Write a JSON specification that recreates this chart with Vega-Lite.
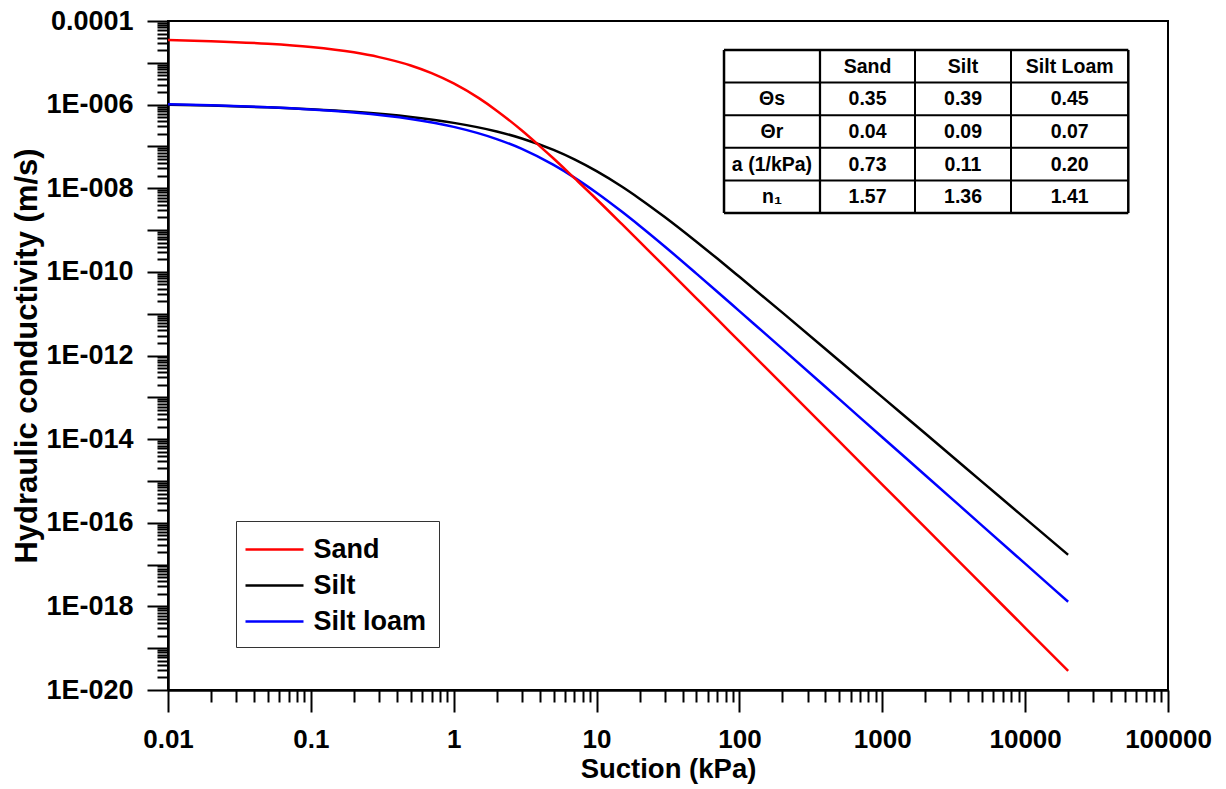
{
  "$schema": "https://vega.github.io/schema/vega-lite/v6.json",
  "width": 1000,
  "height": 669,
  "autosize": "none",
  "padding": {"left": 168, "top": 21, "right": 58, "bottom": 99},
  "background": "white",
  "config": {
    "font": "Liberation Sans",
    "view": {"stroke": "black", "strokeWidth": 2},
    "axis": {
      "grid": false,
      "domainColor": "black",
      "domainWidth": 2.5,
      "tickColor": "black",
      "tickWidth": 2,
      "labelFont": "Liberation Sans",
      "labelFontWeight": "bold",
      "labelColor": "black",
      "titleFont": "Liberation Sans",
      "titleFontWeight": "bold",
      "titleColor": "black"
    }
  },
  "datasets": {
    "curves": [
      {"soil": "Silt", "suction": 0.01, "k": 1.00e-6},
      {"soil": "Silt", "suction": 0.02, "k": 9.51e-7},
      {"soil": "Silt", "suction": 0.05, "k": 8.61e-7},
      {"soil": "Silt", "suction": 0.1, "k": 7.74e-7},
      {"soil": "Silt", "suction": 0.2, "k": 6.71e-7},
      {"soil": "Silt", "suction": 0.5, "k": 5.06e-7},
      {"soil": "Silt", "suction": 1, "k": 3.66e-7},
      {"soil": "Silt", "suction": 2, "k": 2.28e-7},
      {"soil": "Silt", "suction": 3, "k": 1.55e-7},
      {"soil": "Silt", "suction": 5, "k": 8.24e-8},
      {"soil": "Silt", "suction": 7, "k": 4.90e-8},
      {"soil": "Silt", "suction": 10, "k": 2.56e-8},
      {"soil": "Silt", "suction": 15, "k": 1.10e-8},
      {"soil": "Silt", "suction": 20, "k": 5.64e-9},
      {"soil": "Silt", "suction": 30, "k": 2.05e-9},
      {"soil": "Silt", "suction": 50, "k": 5.26e-10},
      {"soil": "Silt", "suction": 70, "k": 2.08e-10},
      {"soil": "Silt", "suction": 100, "k": 7.62e-11},
      {"soil": "Silt", "suction": 200, "k": 1.06e-11},
      {"soil": "Silt", "suction": 500, "k": 7.52e-13},
      {"soil": "Silt", "suction": 1000, "k": 1.01e-13},
      {"soil": "Silt", "suction": 2000, "k": 1.36e-14},
      {"soil": "Silt", "suction": 5000, "k": 9.51e-16},
      {"soil": "Silt", "suction": 10000, "k": 1.27e-16},
      {"soil": "Silt", "suction": 20000, "k": 1.71e-17},
      {"soil": "Silt loam", "suction": 0.01, "k": 1.02e-6},
      {"soil": "Silt loam", "suction": 0.02, "k": 9.64e-7},
      {"soil": "Silt loam", "suction": 0.05, "k": 8.65e-7},
      {"soil": "Silt loam", "suction": 0.1, "k": 7.67e-7},
      {"soil": "Silt loam", "suction": 0.2, "k": 6.46e-7},
      {"soil": "Silt loam", "suction": 0.5, "k": 4.53e-7},
      {"soil": "Silt loam", "suction": 1, "k": 2.94e-7},
      {"soil": "Silt loam", "suction": 2, "k": 1.50e-7},
      {"soil": "Silt loam", "suction": 3, "k": 8.73e-8},
      {"soil": "Silt loam", "suction": 5, "k": 3.61e-8},
      {"soil": "Silt loam", "suction": 7, "k": 1.80e-8},
      {"soil": "Silt loam", "suction": 10, "k": 7.83e-9},
      {"soil": "Silt loam", "suction": 15, "k": 2.77e-9},
      {"soil": "Silt loam", "suction": 20, "k": 1.27e-9},
      {"soil": "Silt loam", "suction": 30, "k": 4.05e-10},
      {"soil": "Silt loam", "suction": 50, "k": 9.08e-11},
      {"soil": "Silt loam", "suction": 70, "k": 3.35e-11},
      {"soil": "Silt loam", "suction": 100, "k": 1.15e-11},
      {"soil": "Silt loam", "suction": 200, "k": 1.44e-12},
      {"soil": "Silt loam", "suction": 500, "k": 9.04e-14},
      {"soil": "Silt loam", "suction": 1000, "k": 1.11e-14},
      {"soil": "Silt loam", "suction": 2000, "k": 1.37e-15},
      {"soil": "Silt loam", "suction": 5000, "k": 8.55e-17},
      {"soil": "Silt loam", "suction": 10000, "k": 1.05e-17},
      {"soil": "Silt loam", "suction": 20000, "k": 1.29e-18},
      {"soil": "Sand", "suction": 0.01, "k": 3.52e-5},
      {"soil": "Sand", "suction": 0.02, "k": 3.30e-5},
      {"soil": "Sand", "suction": 0.05, "k": 2.86e-5},
      {"soil": "Sand", "suction": 0.1, "k": 2.39e-5},
      {"soil": "Sand", "suction": 0.2, "k": 1.78e-5},
      {"soil": "Sand", "suction": 0.3, "k": 1.37e-5},
      {"soil": "Sand", "suction": 0.5, "k": 8.65e-6},
      {"soil": "Sand", "suction": 0.7, "k": 5.68e-6},
      {"soil": "Sand", "suction": 1, "k": 3.22e-6},
      {"soil": "Sand", "suction": 1.5, "k": 1.43e-6},
      {"soil": "Sand", "suction": 2, "k": 7.18e-7},
      {"soil": "Sand", "suction": 3, "k": 2.40e-7},
      {"soil": "Sand", "suction": 4, "k": 1.02e-7},
      {"soil": "Sand", "suction": 5, "k": 5.14e-8},
      {"soil": "Sand", "suction": 7, "k": 1.74e-8},
      {"soil": "Sand", "suction": 10, "k": 5.46e-9},
      {"soil": "Sand", "suction": 15, "k": 1.40e-9},
      {"soil": "Sand", "suction": 20, "k": 5.27e-10},
      {"soil": "Sand", "suction": 30, "k": 1.33e-10},
      {"soil": "Sand", "suction": 50, "k": 2.33e-11},
      {"soil": "Sand", "suction": 70, "k": 7.38e-12},
      {"soil": "Sand", "suction": 100, "k": 2.17e-12},
      {"soil": "Sand", "suction": 200, "k": 2.03e-13},
      {"soil": "Sand", "suction": 500, "k": 8.79e-15},
      {"soil": "Sand", "suction": 1000, "k": 8.18e-16},
      {"soil": "Sand", "suction": 2000, "k": 7.62e-17},
      {"soil": "Sand", "suction": 5000, "k": 3.30e-18},
      {"soil": "Sand", "suction": 10000, "k": 3.08e-19},
      {"soil": "Sand", "suction": 20000, "k": 2.86e-20}
    ],
    "tablelines": [
      {"line": "border", "suction": 78.0, "suction2": 78.0, "k": 2.03e-5, "k2": 2.56e-9},
      {"line": "separator", "suction": 366.4, "suction2": 366.4, "k": 2.03e-5, "k2": 2.56e-9},
      {"line": "inner", "suction": 1694, "suction2": 1694, "k": 2.03e-5, "k2": 2.56e-9},
      {"line": "inner", "suction": 7962, "suction2": 7962, "k": 2.03e-5, "k2": 2.56e-9},
      {"line": "border", "suction": 52720, "suction2": 52720, "k": 2.03e-5, "k2": 2.56e-9},
      {"line": "border", "suction": 78.0, "suction2": 52720, "k": 2.03e-5, "k2": 2.03e-5},
      {"line": "inner", "suction": 78.0, "suction2": 52720, "k": 3.36e-6, "k2": 3.36e-6},
      {"line": "inner", "suction": 78.0, "suction2": 52720, "k": 5.59e-7, "k2": 5.59e-7},
      {"line": "inner", "suction": 78.0, "suction2": 52720, "k": 9.28e-8, "k2": 9.28e-8},
      {"line": "inner", "suction": 78.0, "suction2": 52720, "k": 1.54e-8, "k2": 1.54e-8},
      {"line": "border", "suction": 78.0, "suction2": 52720, "k": 2.56e-9, "k2": 2.56e-9}
    ],
    "tabletext": [
      {"text": "Sand", "suction": 788, "k": 8.16e-6},
      {"text": "Silt", "suction": 3673, "k": 8.16e-6},
      {"text": "Silt Loam", "suction": 20510, "k": 8.16e-6},
      {"text": "Θs", "suction": 169, "k": 1.33e-6},
      {"text": "0.35", "suction": 788, "k": 1.33e-6},
      {"text": "0.39", "suction": 3673, "k": 1.33e-6},
      {"text": "0.45", "suction": 20510, "k": 1.33e-6},
      {"text": "Θr", "suction": 169, "k": 2.21e-7},
      {"text": "0.04", "suction": 788, "k": 2.21e-7},
      {"text": "0.09", "suction": 3673, "k": 2.21e-7},
      {"text": "0.07", "suction": 20510, "k": 2.21e-7},
      {"text": "a (1/kPa)", "suction": 169, "k": 3.64e-8},
      {"text": "0.73", "suction": 788, "k": 3.64e-8},
      {"text": "0.11", "suction": 3673, "k": 3.64e-8},
      {"text": "0.20", "suction": 20510, "k": 3.64e-8},
      {"text": "n₁", "suction": 169, "k": 6.18e-9},
      {"text": "1.57", "suction": 788, "k": 6.18e-9},
      {"text": "1.36", "suction": 3673, "k": 6.18e-9},
      {"text": "1.41", "suction": 20510, "k": 6.18e-9}
    ]
  },
  "resolve": {"axis": {"x": "independent", "y": "independent"}},
  "layer": [
    {
      "data": {"name": "curves"},
      "mark": {"type": "line", "strokeWidth": 2.5, "clip": true, "interpolate": "monotone"},
      "encoding": {
        "x": {
          "field": "suction", "type": "quantitative",
          "scale": {"type": "log", "domain": [0.01, 100000], "nice": false},
          "axis": {
            "orient": "bottom",
            "values": [0.01, 0.1, 1, 10, 100, 1000, 10000, 100000],
            "labelExpr": "'' + datum.value",
            "tickSize": 22,
            "labelPadding": 14,
            "labelFontSize": 26,
            "labelFlush": false,
            "labelOverlap": false,
            "title": "Suction (kPa)",
            "titleFontSize": 27.5,
            "titlePadding": 3
          }
        },
        "y": {
          "field": "k", "type": "quantitative",
          "scale": {"type": "log", "domain": [1e-20, 1e-4], "nice": false},
          "axis": {
            "orient": "left",
            "values": [1e-20, 1e-19, 1e-18, 1e-17, 1e-16, 1e-15, 1e-14, 1e-13, 1e-12, 1e-11, 1e-10, 1e-9, 1e-8, 1e-7, 1e-6, 1e-5, 1e-4],
            "labelExpr": "(round(log(datum.value)/LN10) % 2 != 0) ? '' : (round(log(datum.value)/LN10) == -4 ? '0.0001' : '1E-0' + ((-round(log(datum.value)/LN10)) < 10 ? '0' : '') + (-round(log(datum.value)/LN10)))",
            "tickSize": 21,
            "labelPadding": 14,
            "labelFontSize": 27,
            "labelFlush": false,
            "labelOverlap": false,
            "title": "Hydraulic conductivity (m/s)",
            "titleFontSize": 31,
            "titlePadding": 2
          }
        },
        "color": {
          "field": "soil", "type": "nominal",
          "scale": {"domain": ["Sand", "Silt", "Silt loam"], "range": ["#ff0000", "#000000", "#0000ff"]},
          "legend": {
            "orient": "none",
            "legendX": 68,
            "legendY": 500,
            "title": null,
            "symbolType": "M-2,0H2",
            "symbolStrokeWidth": 2.5,
            "symbolSize": 841,
            "symbolOffset": 10,
            "labelFont": "Liberation Sans",
            "labelFontSize": 27,
            "labelFontWeight": "bold",
            "labelColor": "black",
            "labelOffset": 23,
            "rowPadding": 7,
            "padding": 12.5,
            "strokeColor": "#333333",
            "fillColor": "white"
          }
        }
      }
    },
    {
      "data": {"name": "tablelines"},
      "mark": {"type": "rule", "color": "black"},
      "encoding": {
        "x": {
          "field": "suction", "type": "quantitative",
          "scale": {"type": "log", "domain": [0.01, 100000], "nice": false},
          "axis": {
            "orient": "bottom",
            "values": [0.02, 0.03, 0.04, 0.05, 0.06, 0.07, 0.08, 0.09, 0.2, 0.3, 0.4, 0.5, 0.6, 0.7, 0.8, 0.9, 2, 3, 4, 5, 6, 7, 8, 9, 20, 30, 40, 50, 60, 70, 80, 90, 200, 300, 400, 500, 600, 700, 800, 900, 2000, 3000, 4000, 5000, 6000, 7000, 8000, 9000, 20000, 30000, 40000, 50000, 60000, 70000, 80000, 90000],
            "tickSize": 12,
            "labels": false,
            "domain": false,
            "title": null
          }
        },
        "x2": {"field": "suction2"},
        "y": {
          "field": "k", "type": "quantitative",
          "scale": {"type": "log", "domain": [1e-20, 1e-4], "nice": false},
          "axis": {
            "orient": "left",
            "values": [2e-20, 3e-20, 4e-20, 5e-20, 6e-20, 7e-20, 8e-20, 9e-20, 2e-19, 3e-19, 4e-19, 5e-19, 6e-19, 7e-19, 8e-19, 9e-19, 2e-18, 3e-18, 4e-18, 5e-18, 6e-18, 7e-18, 8e-18, 9e-18, 2e-17, 3e-17, 4e-17, 5e-17, 6e-17, 7e-17, 8e-17, 9e-17, 2e-16, 3e-16, 4e-16, 5e-16, 6e-16, 7e-16, 8e-16, 9e-16, 2e-15, 3e-15, 4e-15, 5e-15, 6e-15, 7e-15, 8e-15, 9e-15, 2e-14, 3e-14, 4e-14, 5e-14, 6e-14, 7e-14, 8e-14, 9e-14, 2e-13, 3e-13, 4e-13, 5e-13, 6e-13, 7e-13, 8e-13, 9e-13, 2e-12, 3e-12, 4e-12, 5e-12, 6e-12, 7e-12, 8e-12, 9e-12, 2e-11, 3e-11, 4e-11, 5e-11, 6e-11, 7e-11, 8e-11, 9e-11, 2e-10, 3e-10, 4e-10, 5e-10, 6e-10, 7e-10, 8e-10, 9e-10, 2e-9, 3e-9, 4e-9, 5e-9, 6e-9, 7e-9, 8e-9, 9e-9, 2e-8, 3e-8, 4e-8, 5e-8, 6e-8, 7e-8, 8e-8, 9e-8, 2e-7, 3e-7, 4e-7, 5e-7, 6e-7, 7e-7, 8e-7, 9e-7, 2e-6, 3e-6, 4e-6, 5e-6, 6e-6, 7e-6, 8e-6, 9e-6, 2e-5, 3e-5, 4e-5, 5e-5, 6e-5, 7e-5, 8e-5, 9e-5],
            "tickSize": 11,
            "labels": false,
            "domain": false,
            "title": null
          }
        },
        "y2": {"field": "k2"},
        "strokeWidth": {
          "field": "line", "type": "nominal",
          "scale": {"domain": ["border", "separator", "inner"], "range": [2.5, 2, 1.2]},
          "legend": null
        }
      }
    },
    {
      "data": {"name": "tabletext"},
      "mark": {"type": "text", "font": "Liberation Sans", "fontWeight": "bold", "fontSize": 19.5, "color": "black", "align": "center", "baseline": "middle"},
      "encoding": {
        "x": {
          "field": "suction", "type": "quantitative",
          "scale": {"type": "log", "domain": [0.01, 100000], "nice": false},
          "axis": null
        },
        "y": {
          "field": "k", "type": "quantitative",
          "scale": {"type": "log", "domain": [1e-20, 1e-4], "nice": false},
          "axis": null
        },
        "text": {"field": "text", "type": "nominal"}
      }
    }
  ]
}
